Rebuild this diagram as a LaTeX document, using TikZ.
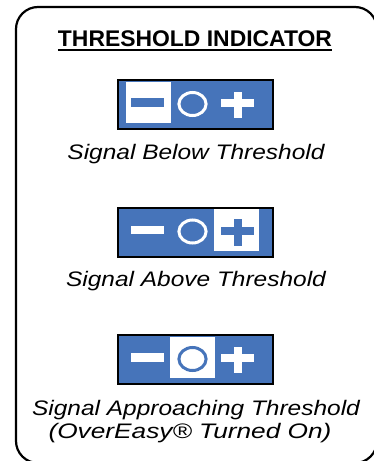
\documentclass[tikz,border=0pt]{standalone}
\usepackage{fontspec}
\setmainfont{Liberation Sans}
\usetikzlibrary{calc}
\definecolor{indblue}{HTML}{4674BA}
\newcommand{\indsymbols}[1]{%
  \fill[#1] (-64.5,-6.2) rectangle (-31.2,2.2);
  \draw[#1,line width=3pt] (-3,-0.5) ellipse [x radius=13.6, y radius=11.5];
  \fill[#1] (25.2,-5.2) rectangle (58.5,2.8);
  \fill[#1] (38,-12.8) rectangle (46,13.8);
}
\begin{document}
\begin{tikzpicture}[x=1pt,y=-1pt,
  frame/.style={draw=black,line width=2.2pt,rounded corners=22pt},
  indbox/.style={draw=black,fill=indblue,line width=2pt,minimum width=155pt,minimum height=49pt,inner sep=0pt,outer sep=0pt},
  caption/.style={font=\fontsize{21}{24}\selectfont\itshape,anchor=base,inner sep=0pt},
  titletext/.style={font=\fontsize{22}{24}\selectfont\bfseries,anchor=base,inner sep=0pt},
  indicator/.pic={
    \fill[white] (#1-22.5,-22.8) rectangle (#1+22.5,18.8);
    \indsymbols{white}
    \begin{scope}
      \clip (#1-22.5,-22.8) rectangle (#1+22.5,18.8);
      \indsymbols{indblue}
    \end{scope}
  }
]
\useasboundingbox (0,0) rectangle (374,461);
\begin{scope}
\clip (0,0) rectangle (374,461);
\draw[frame] (16,7) rectangle (377,463);
\end{scope}

\node[titletext] (title) at (195,46.5) {\resizebox{274pt}{15.8pt}{THRESHOLD INDICATOR}};
\draw[line width=2pt] ($(title.base west)+(0,3.2)$) -- ($(title.base east)+(0,3.2)$);

\node[indbox] (b1) at (195.5,104.5) {};
\pic at (b1.center) {indicator=-47.3};
\node[caption] (c1) at (196,159) {\scalebox{1.165}[1]{Signal Below Threshold}};

\node[indbox] (b2) at (195.5,232) {};
\pic at (b2.center) {indicator=41};
\node[caption] (c2) at (196,286) {\scalebox{1.165}[1]{Signal Above Threshold}};

\node[indbox] (b3) at (195.5,359.5) {};
\pic at (b3.center) {indicator=-3.5};
\node[caption] (c3) at (196,415) {\scalebox{1.165}[1]{Signal Approaching Threshold}};
\node[caption] (c4) at (190,438) {\scalebox{1.25}[1]{(OverEasy® Turned On)}};
\end{tikzpicture}
\end{document}
